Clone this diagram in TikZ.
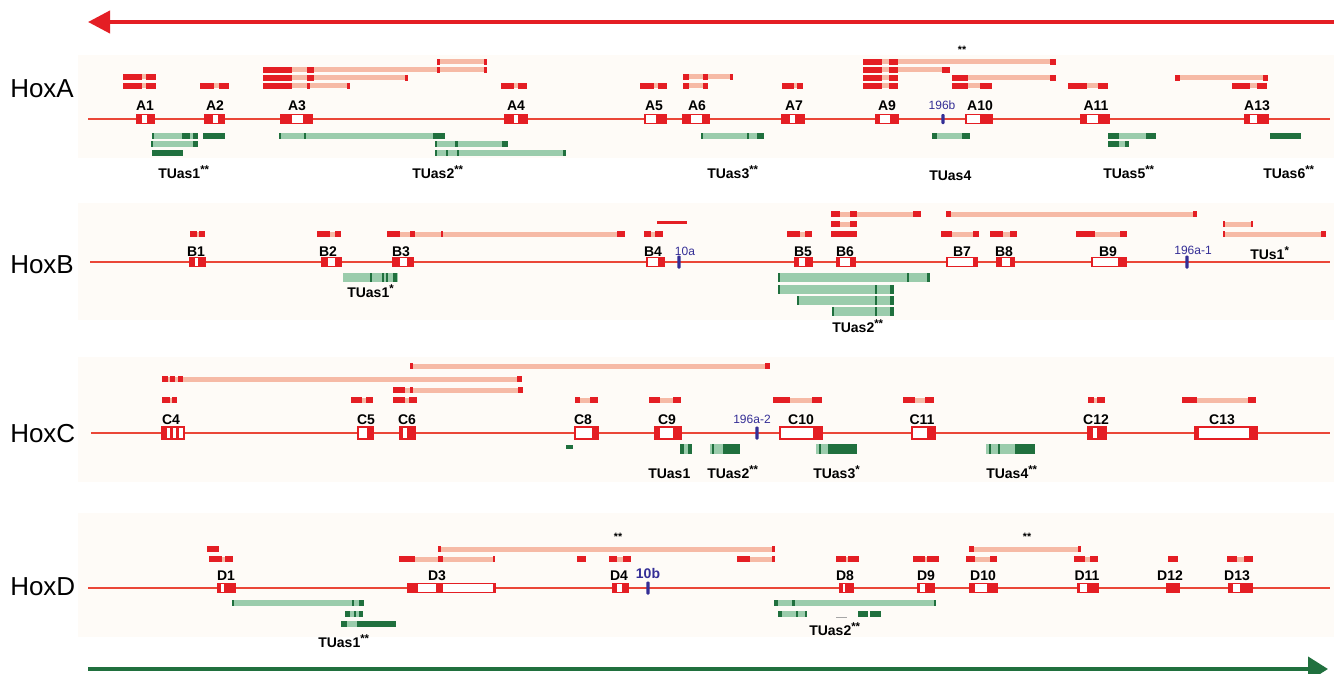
\documentclass[tikz,border=0pt]{standalone}
\usepackage{fontspec}
\setmainfont{Liberation Sans}
\usetikzlibrary{arrows.meta}

\definecolor{hoxred}{RGB}{228,30,36}
\definecolor{axisred}{RGB}{234,70,55}
\definecolor{palered}{RGB}{246,186,166}
\definecolor{darkgreen}{RGB}{32,112,62}
\definecolor{palegreen}{RGB}{155,204,172}
\definecolor{mirblue}{RGB}{52,46,150}
\definecolor{panelbg}{RGB}{254,251,247}

% transcript above the axis: y, from, to, dark blocks
\newcommand{\trx}[4]{%
  \fill[palered] (#2,#1-2.5) rectangle (#3,#1+2.5);
  \foreach \a/\b in {#4}{\fill[hoxred] (\a,#1-3.2) rectangle (\b,#1+3.2);}}
% antisense transcript below the axis: y, from, to, dark blocks, height
\newcommand{\grx}[5]{%
  \fill[palegreen] (#2,#1-#5/2) rectangle (#3,#1+#5/2);
  \foreach \a/\b in {#4}{\fill[darkgreen] (\a,#1-#5/2) rectangle (\b,#1+#5/2);}}
% gene on the axis: y, from, to, red blocks, height
\newcommand{\gene}[5]{%
  \draw[hoxred, line width=0.8pt, fill=white] (#2,#1-#5/2) rectangle (#3,#1+#5/2);
  \foreach \a/\b in {#4}{\fill[hoxred] (\a,#1-#5/2) rectangle (\b,#1+#5/2);}}
% microRNA mark: x, y, height
\newcommand{\mir}[3]{%
  \fill[mirblue, rounded corners=0.8pt] (#1-1.6,#2-#3/2) rectangle (#1+1.6,#2+#3/2);}
% raised stars after a label
\newcommand{\stars}[1]{\raisebox{3.5pt}{\fontsize{8.5}{9}\selectfont #1}}

\begin{document}
\begin{tikzpicture}[x=0.75pt, y=-0.75pt,
    glabel/.style={font=\bfseries\fontsize{10.5}{12}\selectfont, anchor=base, inner sep=0pt},
    tlabel/.style={font=\bfseries\fontsize{10.5}{12}\selectfont, anchor=base west, inner sep=0pt},
    mlabel/.style={font=\fontsize{9}{10}\selectfont, text=mirblue, anchor=base, inner sep=0pt},
    hoxlabel/.style={font=\fontsize{19.5}{22}\selectfont, anchor=base west, inner sep=0pt},
    starlabel/.style={font=\bfseries\fontsize{8}{8}\selectfont, inner sep=0pt},
    axis/.style={axisred, line width=1.1pt}]
  \useasboundingbox (0,0) rectangle (1334,674);
  \fill[white] (0,0) rectangle (1334,674);

  % panels
  \fill[panelbg] (78,55) rectangle (1334,158);
  \fill[panelbg] (78,203) rectangle (1334,320);
  \fill[panelbg] (78,357) rectangle (1334,482);
  \fill[panelbg] (78,513) rectangle (1334,637);

  % direction arrows
  \draw[hoxred, line width=3pt, -{Triangle[length=16.5pt, width=16.5pt]}] (1334,22) -- (88,22);
  \draw[darkgreen, line width=3pt, -{Triangle[length=15pt, width=18pt]}] (88,669) -- (1328,669);

  % ---------------- HoxA ----------------
  \node[hoxlabel] (hoxa) at (10,98) {HoxA};
  \trx{77}{123}{156}{123/142,146/156}
  \trx{86}{123}{156}{123/142,146/156}
  \trx{86}{200}{229}{200/214,219/229}
  \trx{62}{437}{487}{437/440,484/487}
  \trx{70}{263}{487}{263/292,307/314,437/440,484/487}
  \trx{78}{263}{408}{263/292,307/314,405/408}
  \trx{86}{263}{350}{263/292,307/310,347/350}
  \trx{86}{501}{527}{501/514,518/527}
  \trx{86}{640}{667}{640/654,658/667}
  \trx{77}{683}{733}{683/689,703/708,730/733}
  \trx{86}{683}{708}{683/689,703/708}
  \trx{86}{782}{803}{782/794,797/803}
  \trx{62}{863}{1056}{863/882,889/898,1050/1056}
  \trx{70}{863}{950}{863/882,889/898,942/950}
  \trx{78}{863}{898}{863/882,889/898}
  \trx{86}{863}{898}{863/882,889/898}
  \trx{78}{952}{1056}{952/968,1050/1056}
  \trx{86}{952}{992}{952/968,980/992}
  \trx{86}{1068}{1108}{1068/1087,1098/1108}
  \trx{78}{1175}{1268}{1175/1180,1263/1268}
  \trx{86}{1232}{1267}{1232/1250,1257/1267}
  \node[starlabel] (sa) at (962,50) {**};
  \draw[axis] (88,119) -- (1330,119);
  \gene{119}{137}{154}{137/142,147/154}{9}
  \gene{119}{205}{224}{205/213,218/224}{9}
  \gene{119}{281}{312}{281/292,303/312}{9}
  \gene{119}{505}{527}{505/514,518/527}{9}
  \gene{119}{645}{666}{656/666}{9}
  \gene{119}{683}{709}{683/691,702/709}{9}
  \gene{119}{782}{804}{782/790,795/804}{9}
  \gene{119}{876}{898}{876/880,890/898}{9}
  \gene{119}{966}{992}{980/992}{9}
  \gene{119}{1081}{1109}{1081/1087,1098/1109}{9}
  \gene{119}{1245}{1268}{1245/1250,1257/1268}{9}
  \mir{943}{119}{10}
  \foreach \g/\x in {A1/145,A2/215,A3/297,A4/516,A5/654,A6/697,A7/794,A9/887,A10/980,A11/1096,A13/1257}
    \node[glabel] (\g) at (\x,110) {\g};
  \node[mlabel] (m196b) at (942,109) {196b};
  \grx{136}{152}{198}{152/154,182/190,193/198}{6}
  \grx{136}{203}{225}{203/225}{6}
  \grx{144}{151}{198}{151/153,193/198}{6}
  \grx{153}{152}{183}{152/183}{6}
  \grx{136}{279}{445}{279/281,304/306,433/445}{6}
  \grx{144}{435}{508}{435/437,455/458,502/508}{6}
  \grx{153}{435}{566}{435/437,446/448,457/459,563/566}{6}
  \grx{136}{701}{764}{701/703,747/749,757/764}{6}
  \grx{136}{932}{970}{932/937,962/970}{6}
  \grx{136}{1108}{1156}{1108/1119,1146/1156}{6}
  \grx{144}{1108}{1129}{1108/1119,1125/1129}{6}
  \grx{136}{1270}{1301}{1270/1301}{6}
  \node[tlabel] (tuA1) at (158,178) {TUas1\stars{**}};
  \node[tlabel] (tuA2) at (412,178) {TUas2\stars{**}};
  \node[tlabel] (tuA3) at (707,178) {TUas3\stars{**}};
  \node[tlabel] (tuA4) at (929,180) {TUas4};
  \node[tlabel] (tuA5) at (1103,178) {TUas5\stars{**}};
  \node[tlabel] (tuA6) at (1263,178) {TUas6\stars{**}};

  % ---------------- HoxB ----------------
  \node[hoxlabel] (hoxb) at (10,273) {HoxB};
  \trx{234}{190}{205}{190/197,199/205}
  \trx{234}{317}{341}{317/330,335/341}
  \trx{234}{387}{625}{387/400,410/415,441/443,617/625}
  \trx{234}{644}{663}{644/651,655/663}
  \fill[hoxred] (657,220.5) rectangle (687,223.5);
  \trx{234}{787}{812}{787/800,805/812}
  \trx{214}{831}{921}{831/840,850/857,913/921}
  \trx{224}{831}{857}{831/840,850/857}
  \trx{234}{831}{857}{831/857}
  \trx{214}{946}{1197}{946/951,1193/1197}
  \trx{234}{941}{979}{941/952,973/979}
  \trx{234}{990}{1017}{990/1003,1010/1017}
  \trx{234}{1076}{1127}{1076/1095,1120/1127}
  \trx{224}{1223}{1253}{1223/1225,1251/1253}
  \trx{234}{1223}{1326}{1223/1225,1321/1326}
  \draw[axis] (90,262) -- (1330,262);
  \gene{262}{190}{205}{190/195,198/205}{9}
  \gene{262}{322}{341}{322/328,335/341}{9}
  \gene{262}{393}{413}{393/400,407/413}{9}
  \gene{262}{647}{664}{658/664}{9}
  \gene{262}{795}{812}{795/799,805/812}{9}
  \gene{262}{837}{855}{837/840,850/855}{9}
  \gene{262}{947}{977}{973/977}{9}
  \gene{262}{997}{1014}{997/1002,1010/1014}{9}
  \gene{262}{1092}{1126}{1118/1126}{9}
  \mir{679}{262}{13}
  \mir{1187}{262}{13}
  \foreach \g/\x in {B1/196,B2/328,B3/401,B4/653,B5/803,B6/845,B7/962,B8/1004,B9/1108}
    \node[glabel] (\g) at (\x,256) {\g};
  \node[mlabel] (m10a) at (685,255) {10a};
  \node[mlabel] (m196a1) at (1193,254) {196a-1};
  \node[tlabel] (tuB0) at (1250,259) {TUs1\stars{*}};
  \grx{277}{343}{398}{370/372,382/384,386/388,393/397}{9}
  \grx{277}{778}{930}{778/780,907/909,927/930}{9}
  \grx{289}{778}{894}{778/780,875/877,890/894}{9}
  \grx{300}{797}{894}{797/799,875/877,890/894}{9}
  \grx{311}{832}{894}{832/834,875/877,890/894}{9}
  \node[tlabel] (tuB1) at (347,297) {TUas1\stars{*}};
  \node[tlabel] (tuB2) at (832,332) {TUas2\stars{**}};

  % ---------------- HoxC ----------------
  \node[hoxlabel] (hoxc) at (10,442) {HoxC};
  \trx{366}{410}{770}{410/413,765/770}
  \trx{379}{162}{522}{162/168,170/175,178/183,517/522}
  \trx{390}{393}{523}{393/405,410/413,518/523}
  \trx{400}{162}{177}{162/170,172/177}
  \trx{400}{351}{373}{351/362,366/373}
  \trx{400}{393}{417}{393/405,409/417}
  \trx{400}{575}{598}{575/580,590/598}
  \trx{400}{649}{681}{649/660,673/681}
  \trx{400}{773}{822}{773/790,812/822}
  \trx{400}{903}{934}{903/915,925/934}
  \trx{400}{1088}{1105}{1088/1094,1097/1105}
  \trx{400}{1182}{1256}{1182/1197,1248/1256}
  \draw[axis] (91,433) -- (1330,433);
  \gene{433}{162}{184}{162/167,169.5/173,176/179}{12}
  \gene{433}{358}{373}{367/373}{12}
  \gene{433}{400}{415}{400/403,407/415}{12}
  \gene{433}{575}{598}{592/598}{12}
  \gene{433}{655}{681}{655/660,673/681}{12}
  \gene{433}{780}{822}{813/822}{12}
  \gene{433}{912}{935}{927/935}{12}
  \gene{433}{1088}{1106}{1088/1093,1097/1106}{12}
  \gene{433}{1195}{1257}{1195/1199,1249/1257}{12}
  \mir{757}{433}{13}
  \foreach \g/\x in {C4/171,C5/366,C6/407,C8/583,C9/667,C10/801,C11/922,C12/1096,C13/1222}
    \node[glabel] (\g) at (\x,424) {\g};
  \node[mlabel] (m196a2) at (752,423) {196a-2};
  \fill[darkgreen] (566,445) rectangle (573,449);
  \grx{449}{680}{692}{680/684,688/692}{10}
  \grx{449}{710}{740}{712/714,723/740}{10}
  \grx{449}{816}{857}{819/821,828/857}{10}
  \grx{449}{986}{1035}{989/991,998/1000,1015/1035}{10}
  \node[tlabel] (tuC1) at (648,478) {TUas1};
  \node[tlabel] (tuC2) at (707,478) {TUas2\stars{**}};
  \node[tlabel] (tuC3) at (813,478) {TUas3\stars{*}};
  \node[tlabel] (tuC4) at (986,478) {TUas4\stars{**}};

  % ---------------- HoxD ----------------
  \node[hoxlabel] (hoxd) at (10,595) {HoxD};
  \trx{549}{207}{219}{207/219}
  \trx{559}{209}{233}{209/222,225/233}
  \trx{549}{438}{775}{438/441,772/775}
  \trx{559}{399}{495}{399/415,438/443,493/495}
  \trx{559}{577}{586}{577/586}
  \trx{559}{609}{631}{609/617,623/631}
  \trx{559}{737}{775}{737/750,772/775}
  \trx{559}{836}{859}{836/846,848/859}
  \trx{559}{913}{939}{913/925,927/939}
  \trx{549}{969}{1081}{969/974,1078/1081}
  \trx{559}{966}{997}{966/975,990/997}
  \trx{559}{1074}{1098}{1074/1085,1090/1098}
  \trx{559}{1168}{1178}{1168/1178}
  \trx{559}{1227}{1253}{1227/1237,1244/1253}
  \node[starlabel] (sd1) at (618,537) {**};
  \node[starlabel] (sd2) at (1027,537) {**};
  \draw[axis] (88,588) -- (1330,588);
  \gene{588}{218}{235}{218/221,224/235}{9}
  \gene{588}{408}{495}{408/418,436/443,493/495}{9}
  \gene{588}{613}{628}{613/617,622/628}{9}
  \gene{588}{840}{853}{840/843,845/853}{9}
  \gene{588}{918}{934}{918/920,925/934}{9}
  \gene{588}{970}{997}{970/975,987/997}{9}
  \gene{588}{1078}{1098}{1078/1080,1087/1098}{9}
  \gene{588}{1167}{1179}{1167/1179}{9}
  \gene{588}{1229}{1252}{1229/1233,1240/1252}{9}
  \mir{648}{588}{13}
  \foreach \g/\x in {D1/226,D3/437,D4/619,D8/845,D9/926,D10/983,D11/1087,D12/1170,D13/1237}
    \node[glabel] (\g) at (\x,580) {\g};
  \node[glabel, text=mirblue] (m10b) at (648,578) {10b};
  \grx{603}{232}{364}{232/234,352/354,359/364}{6}
  \grx{614}{345}{363}{345/350,354/356,359/363}{6}
  \grx{624}{341}{396}{341/347,357/396}{6}
  \grx{603}{774}{936}{774/778,792/795,934/936}{6}
  \grx{614}{778}{807}{778/782,796/798,805/807}{6}
  \fill[darkgreen] (858,611) rectangle (868,617);
  \fill[darkgreen] (870,611) rectangle (881,617);
  \draw[gray!70, line width=0.5pt] (836,617) -- (847,617);
  \node[tlabel] (tuD1) at (318,647) {TUas1\stars{**}};
  \node[tlabel] (tuD2) at (809,635) {TUas2\stars{**}};
\end{tikzpicture}
\end{document}
